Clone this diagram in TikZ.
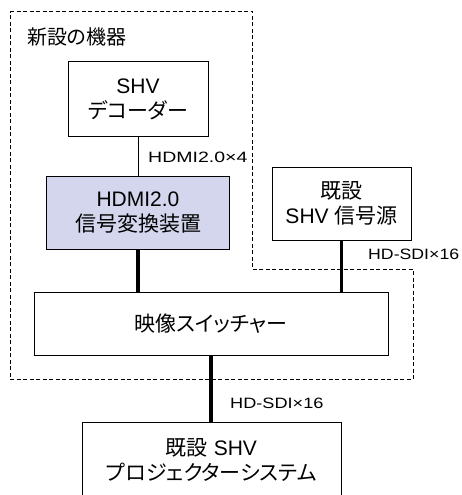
\documentclass[tikz,border=0pt]{standalone}
\usepackage{graphicx}
\usepackage{fontspec}
\setmainfont{Liberation Sans}
\newfontfamily\jpfont[RawFeature=+palt]{Noto Sans CJK JP}
\newcommand\jtext[1]{{\jpfont #1}}
\definecolor{convfill}{RGB}{211,214,236}
\begin{document}
\begin{tikzpicture}[x=1pt,y=-1pt,
  box/.style={draw, line width=1pt, align=center, inner sep=0pt, font=\fontsize{21}{25}\selectfont},
  lbl/.style={inner sep=0pt, anchor=base west, font=\fontsize{15}{18}\selectfont},
  thinline/.style={line width=1pt},
  thickline/.style={line width=3.6pt},
  grp/.style={line width=0.8pt, dash pattern=on 4pt off 2.5pt}]
\useasboundingbox (0,0) rectangle (462,495);
\clip (0,0) rectangle (462,495);
\draw[grp] (10,11) -- (252,11) -- (252,269) -- (413,269) -- (413,379) -- (10,379) -- cycle;
\node[inner sep=0pt, anchor=west, font=\fontsize{20}{24}\selectfont] (grplabel) at (27,36.5) {\jtext{新設の機器}};
\node[box, minimum width=140pt, minimum height=74pt] (dec) at (138,99) {SHV\\\jtext{デコーダー}};
\node[box, fill=convfill, minimum width=183pt, minimum height=73pt] (conv) at (138,212.5) {HDMI2.0\\\jtext{信号変換装置}};
\node[box, minimum width=139pt, minimum height=73pt] (src) at (341.5,203.5) {\jtext{既設}\\SHV \jtext{信号源}};
\node[box, minimum width=354pt, minimum height=63pt] (sw) at (211,323.5) {\jtext{映像スイッチャー}};
\node[box, minimum width=259pt, minimum height=76pt] (proj) at (211.5,460) {\jtext{既設} SHV\\\jtext{プロジェクターシステム}};
\draw[thinline] (dec.south) -- (conv.north);
\draw[thickline] (conv.south) -- (conv.south |- sw.north);
\draw[thickline] (src.south) -- (src.south |- sw.north);
\draw[thickline] (sw.south) -- (sw.south |- proj.north);
\node[lbl] (l1) at (148,162.5) {\scalebox{1.3}[1]{HDMI2.0×4}};
\node[lbl] (l2) at (368,259) {\scalebox{1.18}[1]{HD-SDI×16}};
\node[lbl] (l3) at (230,408) {\scalebox{1.21}[1]{HD-SDI×16}};
\end{tikzpicture}
\end{document}
